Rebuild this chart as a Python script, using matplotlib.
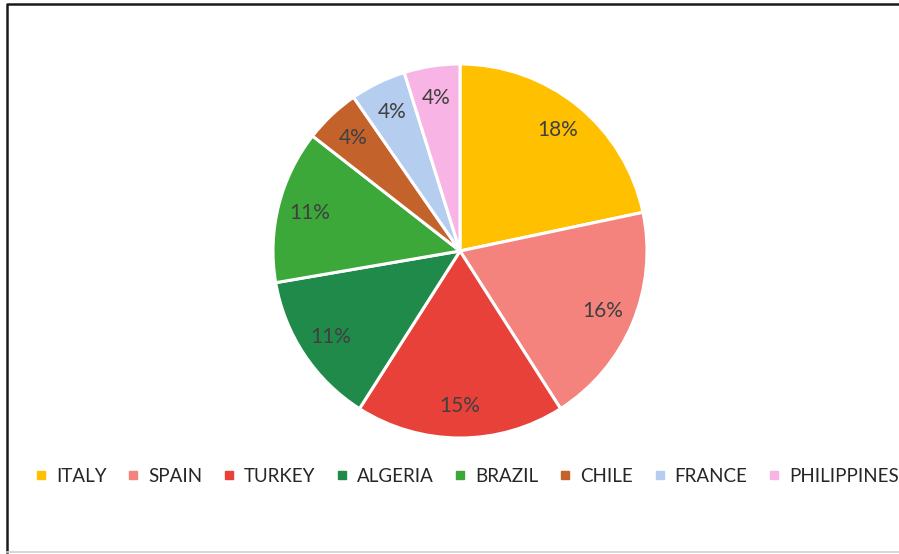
import matplotlib
matplotlib.use("Agg")
import matplotlib.pyplot as plt
from matplotlib.lines import Line2D

plt.rcParams["font.family"] = ["Lato", "DejaVu Sans"]

countries = ["ITALY", "SPAIN", "TURKEY", "ALGERIA", "BRAZIL", "CHILE", "FRANCE", "PHILIPPINES"]
shares = [18, 16, 15, 11, 11, 4, 4, 4]
colors = ["#FFC000", "#F4837E", "#E8413A", "#1F8A4A", "#3CA83A", "#C4622C", "#B5CDEE", "#F7B4E4"]

W, H = 899, 554
fig = plt.figure(figsize=(W / 100, H / 100), dpi=100)

# pie centred at (460, 251) px, radius 187 px
cx, cy, r = 460, 251, 187
ax = fig.add_axes([(cx - r) / W, (H - cy - r) / H, 2 * r / W, 2 * r / H])
total = sum(shares)
ax.pie(shares, colors=colors, startangle=90, counterclock=False,
       wedgeprops=dict(edgecolor="white", linewidth=2.2),
       autopct=lambda p: f"{p * total / 100:.0f}%", pctdistance=0.83,
       textprops=dict(color="#404040", fontsize=15))
ax.set_xlim(-1, 1)
ax.set_ylim(-1, 1)
ax.set_aspect("equal")
ax.axis("off")

handles = [Line2D([], [], marker="s", linestyle="none", markersize=6,
                  markerfacecolor=c, markeredgecolor=c) for c in colors]
fig.legend(handles, countries, loc="center", bbox_to_anchor=(467 / W, 1 - 476 / H),
           ncol=len(countries), frameon=False, fontsize=13.5, handlelength=0.6,
           handletextpad=0.5, columnspacing=1.12, labelcolor="#262626")

# chart border: dark left/top edge, faint bottom edge
fig.add_artist(Line2D([7 / W, 7 / W, 1], [2 / H, 1 - 4 / H, 1 - 4 / H],
                      transform=fig.transFigure, color="#1a1a1a", linewidth=1.8))
fig.add_artist(Line2D([7 / W, 1], [2 / H, 2 / H], transform=fig.transFigure,
                      color="#d0d0d0", linewidth=1.2))

fig.savefig("out.png", dpi=100)
